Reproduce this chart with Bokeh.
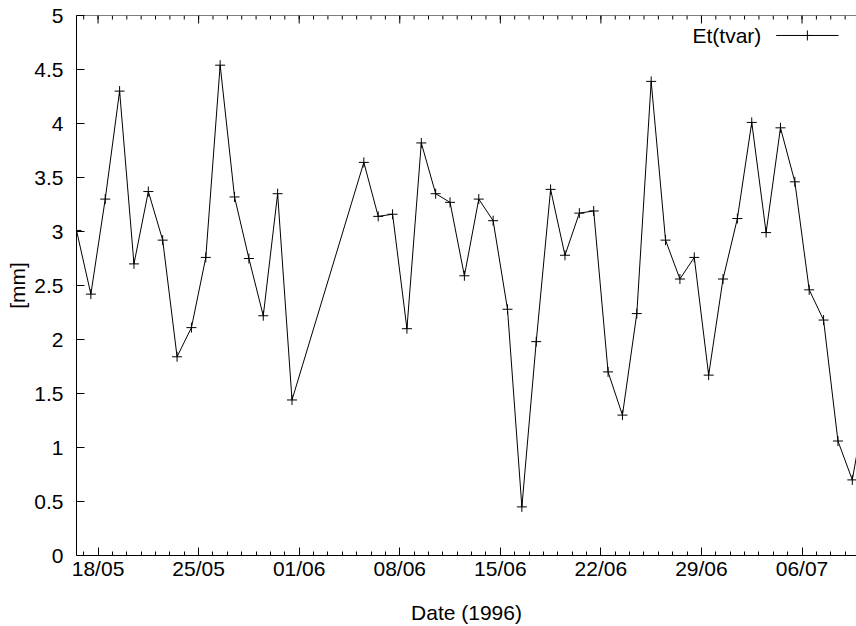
import pandas as pd
from bokeh.plotting import figure
from bokeh.models import (FixedTicker, DatetimeTickFormatter, Range1d, Label, Span)
from bokeh.embed import file_html
from bokeh.resources import INLINE

# ---------------- data ----------------
dates = [
    "1996-05-16", "1996-05-17", "1996-05-18", "1996-05-19", "1996-05-20",
    "1996-05-21", "1996-05-22", "1996-05-23", "1996-05-24", "1996-05-25",
    "1996-05-26", "1996-05-27", "1996-05-28", "1996-05-29", "1996-05-30",
    "1996-05-31",
    "1996-06-05", "1996-06-06", "1996-06-07", "1996-06-08", "1996-06-09",
    "1996-06-10", "1996-06-11", "1996-06-12", "1996-06-13", "1996-06-14",
    "1996-06-15", "1996-06-16", "1996-06-17", "1996-06-18", "1996-06-19",
    "1996-06-20", "1996-06-21", "1996-06-22", "1996-06-23", "1996-06-24",
    "1996-06-25", "1996-06-26", "1996-06-27", "1996-06-28", "1996-06-29",
    "1996-06-30", "1996-07-01", "1996-07-02", "1996-07-03", "1996-07-04",
    "1996-07-05", "1996-07-06", "1996-07-07", "1996-07-08", "1996-07-09",
    "1996-07-10",
]
et_tvar = [
    3.01, 2.42, 3.30, 4.30, 2.70, 3.37, 2.92, 1.84, 2.11, 2.76,
    4.54, 3.32, 2.75, 2.22, 3.35, 1.44,
    3.64, 3.14, 3.16, 2.10, 3.82, 3.35, 3.27, 2.59, 3.30, 3.10,
    2.28, 0.45, 1.98, 3.39, 2.78, 3.17, 3.19, 1.70, 1.30, 2.24,
    4.39, 2.92, 2.56, 2.76, 1.67, 2.56, 3.12, 4.01, 2.99, 3.96,
    3.46, 2.46, 2.18, 1.06, 0.70, 1.45,
]
series_name = "Et(tvar)"
tick_dates = ["1996-05-18", "1996-05-25", "1996-06-01", "1996-06-08",
              "1996-06-15", "1996-06-22", "1996-06-29", "1996-07-06"]
tick_labels = ["18/05", "25/05", "01/06", "08/06", "15/06", "22/06",
               "29/06", "06/07"]
y_ticks = [0, 0.5, 1, 1.5, 2, 2.5, 3, 3.5, 4, 4.5, 5]
x_start = "1996-05-16 12:00"
x_end = "1996-07-09 19:00"
x_title = "Date (1996)"
y_title = "[mm]"

FONT = "Liberation Sans"
FS = "21px"


def to_ms(ts):
    return (pd.to_datetime(ts) - pd.Timestamp("1970-01-01")) // pd.Timedelta(milliseconds=1)


x = (pd.to_datetime(dates) + pd.Timedelta(hours=12)).to_pydatetime()
xs = pd.Timestamp(x_start)
xe = pd.Timestamp(x_end)
y_min, y_max = y_ticks[0], y_ticks[-1]

p = figure(width=856, height=626, x_axis_type="datetime",
           x_range=Range1d(xs.to_pydatetime(), xe.to_pydatetime()),
           y_range=Range1d(y_min, y_max),
           output_backend="svg", toolbar_location=None,
           min_border_left=76, min_border_right=0,
           min_border_top=15, min_border_bottom=71)
p.outline_line_color = None
p.xgrid.visible = False
p.ygrid.visible = False
p.background_fill_color = "white"
p.border_fill_color = "white"

major = [int(v) for v in to_ms(tick_dates)]
minor_dates = pd.date_range("1996-05-16", "1996-07-10", freq="D")
minor = [int(v) for v in to_ms(minor_dates)]
xticker = FixedTicker(ticks=major, minor_ticks=minor)
fmt = DatetimeTickFormatter(days="%d/%m", months="%d/%m", hours="%d/%m",
                            years="%d/%m", hourmin="%d/%m")


def style_axis(ax):
    ax.axis_line_color = "black"
    ax.axis_line_width = 1
    ax.major_tick_line_color = "black"
    ax.minor_tick_line_color = "black"
    ax.major_tick_in = 8
    ax.major_tick_out = 0
    ax.minor_tick_in = 4
    ax.minor_tick_out = 0
    ax.major_label_text_font = FONT
    ax.major_label_text_font_size = FS
    ax.major_label_text_color = "black"
    ax.axis_label_text_font = FONT
    ax.axis_label_text_font_size = FS
    ax.axis_label_text_font_style = "normal"
    ax.axis_label_text_color = "black"


xa = p.xaxis[0]
xa.ticker = xticker
xa.formatter = fmt
style_axis(xa)
xa.major_label_standoff = 1
xa.axis_label = x_title
xa.axis_label_standoff = 18

ya = p.yaxis[0]
ya.ticker = FixedTicker(ticks=y_ticks, minor_ticks=[])
ya.major_label_overrides = {v: f"{v:g}" for v in y_ticks}
style_axis(ya)
ya.major_label_standoff = 13
ya.axis_label = y_title
ya.axis_label_standoff = 2

# top border with mirrored ticks (gnuplot style)
p.add_layout(Span(location=y_max, dimension="width", line_color="black", line_width=1))
px_per_unit = 540.0  # frame height in px for the y span
maj_len = 8 * (y_max - y_min) / px_per_unit
min_len = 4 * (y_max - y_min) / px_per_unit
tick_x_major = pd.to_datetime(tick_dates).to_pydatetime()
tick_x_minor = minor_dates.to_pydatetime()
p.segment(x0=tick_x_minor, y0=[y_max] * len(tick_x_minor),
          x1=tick_x_minor, y1=[y_max - min_len] * len(tick_x_minor),
          line_color="black", line_width=1)
p.segment(x0=tick_x_major, y0=[y_max] * len(tick_x_major),
          x1=tick_x_major, y1=[y_max - maj_len] * len(tick_x_major),
          line_color="black", line_width=1)

p.line(x, et_tvar, line_color="black", line_width=1)
p.scatter(x, et_tvar, marker="cross", size=10, line_color="black", line_width=1)

# gnuplot-style key at top right
span = (xe - xs)
lx0 = xs + span * 0.897
lx1 = xs + span * 0.977
lxt = xs + span * 0.878
ly = 4.815
p.line([lx0.to_pydatetime(), lx1.to_pydatetime()], [ly, ly], line_color="black", line_width=1)
p.scatter([(lx0 + (lx1 - lx0) / 2).to_pydatetime()], [ly], marker="cross", size=10,
          line_color="black", line_width=1)
p.add_layout(Label(x=lxt.to_pydatetime(), y=ly, text=series_name, text_align="right",
                   text_baseline="middle", text_font=FONT, text_font_size=FS,
                   text_color="black"))

open("out.html", "w").write(file_html(p, INLINE))
